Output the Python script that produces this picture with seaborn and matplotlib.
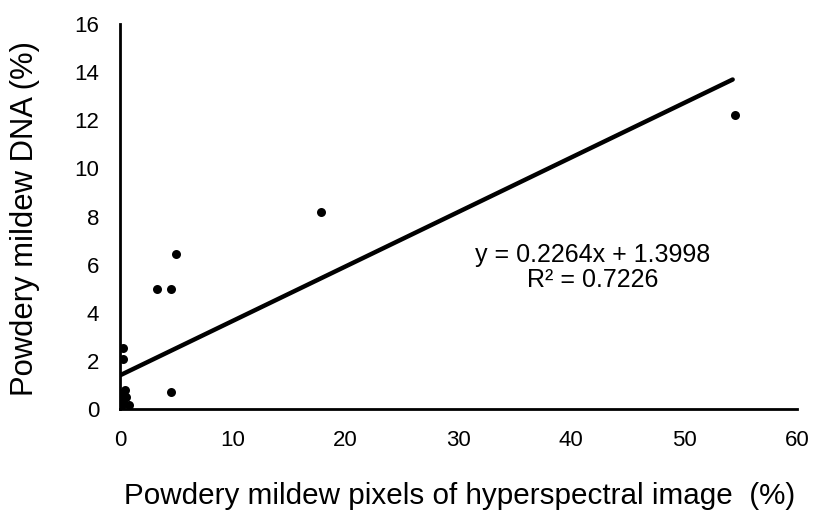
import matplotlib
matplotlib.use("Agg")
import matplotlib.pyplot as plt
import seaborn as sns
import numpy as np
import pandas as pd

x_vals = [54.5, 17.8, 5.0, 3.3, 4.5, 4.5, 0.3, 0.3, 0.4, 0.1, 0.3, 0.8, 0.1, 0.05, 0.5]
y_vals = [12.2, 8.2, 6.45, 5.0, 5.0, 0.7, 2.55, 2.08, 0.8, 0.67, 0.33, 0.17, 0.17, 0.1, 0.5]
slope = 0.2264
intercept = 1.3998
line_x = [0, 54.3]
x_ticks = [0, 10, 20, 30, 40, 50, 60]
y_ticks = [0, 2, 4, 6, 8, 10, 12, 14, 16]

sns.set_theme(style="white")
plt.rcParams['font.family'] = ['Liberation Sans', 'DejaVu Sans']

df = pd.DataFrame({"x": x_vals, "y": y_vals})
fig = plt.figure(figsize=(8.17, 5.13), dpi=100)
ax = fig.add_axes([0.1469, 0.2027, 0.8286, 0.7505])

sns.scatterplot(data=df, x="x", y="y", ax=ax, color="black", s=42, edgecolor="black", linewidth=0, zorder=3)
lx = np.array(line_x)
sns.lineplot(x=lx, y=slope * lx + intercept, ax=ax, color="black", linewidth=3.2, zorder=2)

ax.set_xlim(0, 60)
ax.set_ylim(0, 16)
ax.set_xticks(x_ticks)
ax.set_yticks(y_ticks)
ax.tick_params(axis="x", labelsize=16, length=0, pad=15)
ax.tick_params(axis="y", labelsize=16, length=0, pad=15)
for lab in ax.get_xticklabels() + ax.get_yticklabels():
    lab.set_color("black")
for s in ["top", "right"]:
    ax.spines[s].set_visible(False)
for s in ["left", "bottom"]:
    ax.spines[s].set_color("black")
    ax.spines[s].set_linewidth(2)
ax.set_xlabel("Powdery mildew pixels of hyperspectral image  (%)", fontsize=21.3, color="black")
ax.set_ylabel("Powdery mildew DNA (%)", fontsize=22.3, color="black")
ax.xaxis.set_label_coords(0.502, -0.19)
ax.yaxis.set_label_coords(-0.118, 0.494)

ax.text(41.9, 6.11, "y = 0.2264x + 1.3998", fontsize=18, ha="center", va="baseline", color="black")
ax.text(41.9, 5.07, "R² = 0.7226", fontsize=18, ha="center", va="baseline", color="black")

fig.savefig("out.png", dpi=100)
